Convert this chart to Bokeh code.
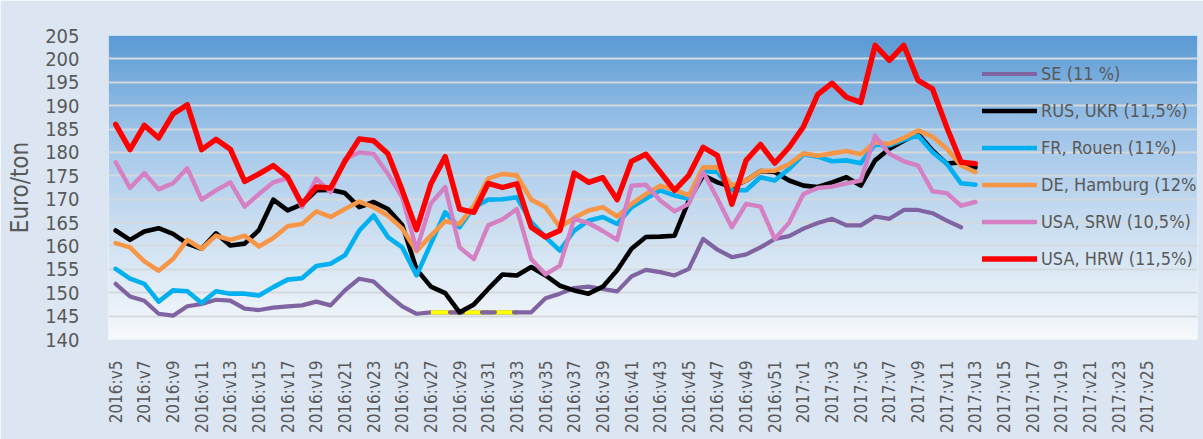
import math
import numpy as np
from bokeh.plotting import figure
from bokeh.models import Range1d, FixedTicker, Legend, LegendItem
from bokeh.embed import file_html
from bokeh.resources import INLINE

# ---- data ----
weeks = [f"2016:v{w}" for w in range(5, 53)] + [f"2017:v{w}" for w in range(1, 27)]
y_ticks = list(range(140, 206, 5))

se = [151.9, 149.2, 148.3, 145.5, 145.1, 147.1, 147.6, 148.5, 148.3, 146.6,
      146.3, 146.8, 147.1, 147.3, 148.1, 147.3, 150.5, 153.0, 152.4, 149.6,
      147.1, 145.5, 145.8, 145.8, 145.8, 145.8, 145.8, 145.8, 145.8, 145.8,
      148.8, 149.8, 151.0, 151.3, 150.8, 150.3, 153.5, 154.9, 154.4, 153.7,
      155.1, 161.5, 159.2, 157.6, 158.2, 159.7, 161.5, 162.1, 163.7, 164.9,
      165.8, 164.4, 164.4, 166.3, 165.8, 167.7, 167.7, 167.0, 165.4, 164.0]

rus_ukr = [163.3, 161.3, 163.1, 163.8, 162.6, 160.5, 159.4, 162.7, 160.1, 160.5,
           163.4, 169.9, 167.6, 168.9, 171.9, 172.0, 171.3, 168.3, 169.4, 167.9,
           164.5, 155.0, 151.3, 149.9, 145.8, 147.5, 150.8, 153.9, 153.7, 155.5,
           153.7, 151.5, 150.5, 149.8, 151.3, 154.8, 159.4, 161.9, 162.0, 162.2,
           169.7, 175.1, 173.6, 172.6, 174.0, 176.0, 175.8, 174.0, 172.9, 172.6,
           173.6, 174.7, 172.9, 178.3, 180.8, 182.5, 184.0, 180.4, 177.6, 177.9,
           176.8]

fr_rouen = [155.1, 153.0, 151.9, 148.1, 150.5, 150.3, 147.8, 150.3, 149.8, 149.8,
            149.4, 151.2, 152.8, 153.1, 155.7, 156.2, 158.0, 163.3, 166.5, 161.9,
            159.7, 153.7, 160.5, 167.2, 164.0, 168.3, 169.9, 170.0, 170.4, 165.1,
            161.9, 159.0, 163.3, 165.4, 166.2, 164.7, 168.3, 170.1, 171.9, 170.8,
            170.1, 176.0, 175.8, 171.9, 171.9, 174.7, 174.0, 176.5, 179.6, 179.1,
            178.1, 178.3, 177.7, 181.7, 181.5, 182.7, 183.6, 180.1, 177.6, 173.4,
            173.1]

de_hamburg = [160.6, 159.7, 156.7, 154.7, 157.2, 161.3, 159.4, 162.2, 161.3, 162.2,
              159.9, 161.7, 164.2, 164.7, 167.4, 166.2, 167.9, 169.5, 168.3, 166.5,
              163.7, 158.9, 162.2, 165.3, 164.7, 168.6, 174.4, 175.4, 175.1, 169.9,
              168.3, 164.0, 166.0, 167.6, 168.3, 166.3, 169.0, 171.1, 172.9, 172.0,
              170.8, 176.8, 176.8, 172.9, 174.0, 176.0, 176.1, 177.5, 179.8, 179.3,
              179.8, 180.3, 179.6, 182.2, 181.8, 183.1, 184.7, 183.4, 180.8, 177.2,
              175.8]

usa_srw = [177.9, 172.4, 175.6, 172.1, 173.4, 176.6, 169.9, 171.9, 173.6, 168.4,
           171.1, 173.6, 174.5, 168.3, 174.4, 171.5, 178.6, 180.0, 179.7, 175.4,
           170.4, 159.2, 169.1, 172.6, 159.7, 157.2, 164.4, 165.7, 167.9, 157.2,
           153.9, 155.8, 165.8, 164.9, 163.2, 161.3, 172.9, 173.1, 169.7, 167.4,
           169.0, 175.8, 170.1, 164.0, 169.0, 168.4, 161.5, 165.0, 171.1, 172.4,
           172.7, 173.4, 174.0, 183.6, 179.7, 178.1, 177.2, 171.7, 171.3, 168.6,
           169.4]

usa_hrw = [186.0, 180.6, 185.8, 183.1, 188.2, 190.2, 180.6, 182.8, 180.7, 173.8,
           175.4, 177.2, 174.7, 168.9, 172.6, 172.4, 178.1, 182.9, 182.5, 179.7,
           171.9, 163.5, 173.3, 179.1, 167.9, 167.2, 173.4, 172.5, 173.3, 164.0,
           161.9, 163.3, 175.6, 173.6, 174.6, 169.9, 178.1, 179.6, 175.8, 171.9,
           175.1, 181.1, 179.3, 168.9, 178.3, 181.7, 177.7, 181.1, 185.5, 192.4,
           194.8, 191.8, 190.7, 202.9, 199.7, 202.9, 195.4, 193.6, 185.4, 177.9,
           177.6]

# estimated (missing) stretch of the SE series, highlighted in yellow
se_gap_start, se_gap_end = 22, 28

series_names = ["SE (11 %)", "RUS, UKR (11,5%)", "FR, Rouen (11%)",
                "DE, Hamburg (12%)", "USA, SRW (10,5%)", "USA, HRW (11,5%)"]
series_values = [se, rus_ukr, fr_rouen, de_hamburg, usa_srw, usa_hrw]
series_colors = ["#8064a2", "#000000", "#00b0f0", "#f79646", "#d580c2", "#ff0000"]
series_widths = [4.2, 4.6, 4.6, 4.6, 4.4, 5.4]

FONT = "DejaVu Sans Condensed"
TXT = "#595959"

p = figure(width=1203, height=439, output_backend="svg", toolbar_location=None,
           x_range=Range1d(-0.5, 75.5), y_range=Range1d(140, 205),
           min_border_left=108, min_border_right=6, min_border_top=35,
           min_border_bottom=100)
p.title.visible = False
p.border_fill_color = "#dce6f2"
p.background_fill_color = "#eef3fa"
p.outline_line_color = None

# gradient plot-area background
n = 260
v = np.linspace(0, 1, n)
stops_v = [0.0, 0.35, 0.65, 1.0]
stops_c = [(247, 249, 252), (205, 224, 242), (165, 200, 234), (91, 155, 213)]
img = np.empty((n, 1), dtype=np.uint32)
view = img.view(dtype=np.uint8).reshape((n, 1, 4))
for k in range(3):
    view[:, 0, k] = np.interp(v, stops_v, [c[k] for c in stops_c]).astype(np.uint8)
view[:, 0, 3] = 255
bg = p.image_rgba(image=[img], x=-0.5, y=140, dw=76, dh=65)
bg.level = "image"

# axes
p.xaxis.ticker = FixedTicker(ticks=list(range(0, len(weeks), 2)))
p.xaxis.major_label_overrides = {i: weeks[i] for i in range(0, len(weeks), 2)}
p.xaxis.major_label_orientation = math.pi / 2
p.xaxis.major_label_text_font = FONT
p.xaxis.major_label_text_font_size = "17px"
p.xaxis.major_label_text_color = TXT
p.xaxis.major_label_standoff = 15
p.xaxis.axis_line_color = None
p.xaxis.major_tick_line_color = None
p.xaxis.minor_tick_line_color = None

p.yaxis.ticker = FixedTicker(ticks=y_ticks)
p.yaxis.major_label_text_font = FONT
p.yaxis.major_label_text_font_size = "20px"
p.yaxis.major_label_text_color = TXT
p.yaxis.major_label_standoff = 23
p.yaxis.axis_line_color = None
p.yaxis.major_tick_line_color = None
p.yaxis.minor_tick_line_color = None
p.yaxis.axis_label = "Euro/ton"
p.yaxis.axis_label_text_font = FONT
p.yaxis.axis_label_text_font_size = "24px"
p.yaxis.axis_label_text_font_style = "normal"
p.yaxis.axis_label_text_color = TXT
p.yaxis.axis_label_standoff = 8

p.xgrid.visible = False
p.ygrid.ticker = FixedTicker(ticks=y_ticks)
p.ygrid.grid_line_color = "#d4d9de"
p.ygrid.grid_line_width = 2

items = []
for name, vals, col, w in zip(series_names, series_values, series_colors, series_widths):
    r = p.line(list(range(len(vals))), vals, line_color=col, line_width=w,
               line_join="round", line_cap="round")
    items.append(LegendItem(label=name, renderers=[r]))
    if vals is se:
        xs = list(range(se_gap_start, se_gap_end + 1))
        ys = se[se_gap_start:se_gap_end + 1]
        p.line(xs, ys, line_color="#ffff00", line_width=4.2)
        p.line(xs, ys, line_color=col, line_width=4.2, line_cap="round",
               line_dash="13 19", line_dash_offset=13)

legend = Legend(items=items, location=(874, 70), padding=0, margin=0, spacing=16,
                glyph_width=55, glyph_height=21, label_height=21, label_standoff=4,
                label_text_font=FONT, label_text_font_size="18px",
                label_text_color=TXT, background_fill_alpha=0, border_line_alpha=0)
p.add_layout(legend)

open("out.html", "w").write(file_html(p, INLINE))
